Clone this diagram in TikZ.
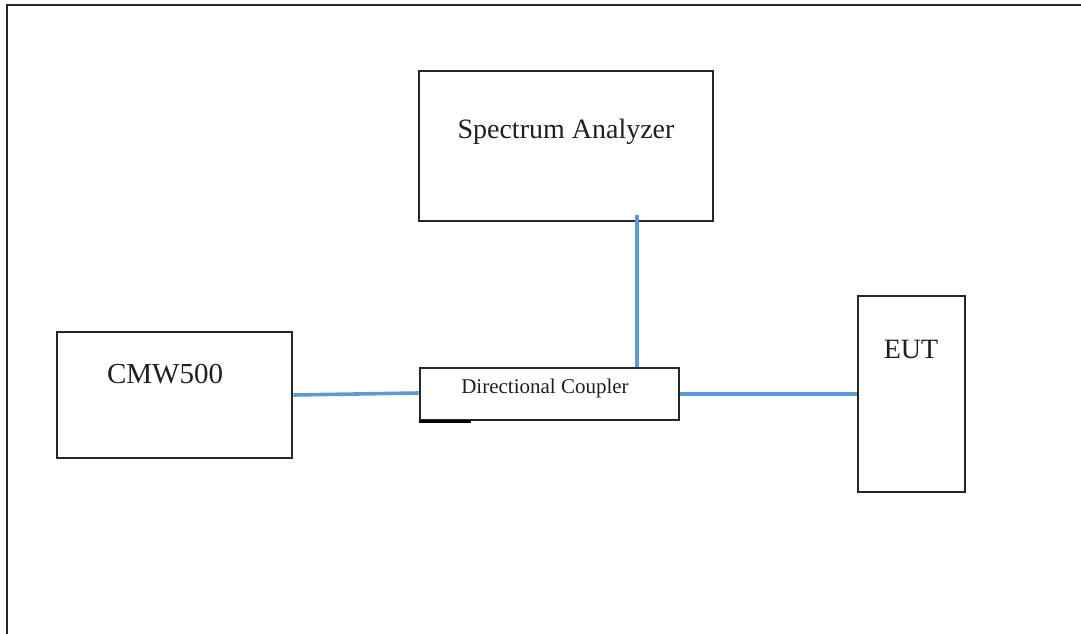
\documentclass[tikz,border=0pt]{standalone}
\usepackage{fontspec}
\setmainfont{Liberation Serif}
\usepackage{xcolor}
\usetikzlibrary{calc}

\definecolor{cable}{RGB}{91,155,213}
\definecolor{edge}{RGB}{38,38,38}

\begin{document}
\begin{tikzpicture}[x=1pt, y=-1pt,
    box/.style={draw=edge, line width=2.8pt, inner sep=0pt},
    cable/.style={draw=cable, line width=3.6pt},
    lbl/.style={anchor=base, text=black!88, font=\fontsize{28}{32}\selectfont}]
  \useasboundingbox (0, 0) rectangle (1081, 634);
  % Outer frame, cut off at the right and bottom
  \draw[edge, line width=2.4pt] (1081, 5) -- (7, 5) -- (7, 634);

  % Instruments
  \node[box, minimum width=294pt, minimum height=150pt] (sa) at (566, 146) {};
  \node[box, minimum width=235pt, minimum height=126pt] (cmw) at (174.5, 395) {};
  \node[box, minimum width=259pt, minimum height=52pt] (dc) at (549.5, 394) {};
  \node[box, minimum width=107pt, minimum height=196pt] (eut) at (911.5, 394) {};
  \draw[black, line width=3.4pt] (dc.south west) -- ++(52, 0);

  \node[lbl] (satext) at (566, 138) {Spectrum Analyzer};
  \node[lbl, font=\fontsize{29}{32}\selectfont] (cmwtext) at (165, 383) {CMW500};
  \node[lbl] (euttext) at (911, 358) {EUT};
  \node[lbl, font=\fontsize{21}{24}\selectfont] (dctext) at (545, 393) {Directional Coupler};

  % Cables
  \coordinate (tap) at (637, 215);
  \draw[cable] (cmw.east) -- ([yshift=1pt]dc.west);
  \draw[cable] (dc.east) -- (eut.west);
  \draw[cable] (tap) -- (tap |- dc.north);
\end{tikzpicture}
\end{document}
